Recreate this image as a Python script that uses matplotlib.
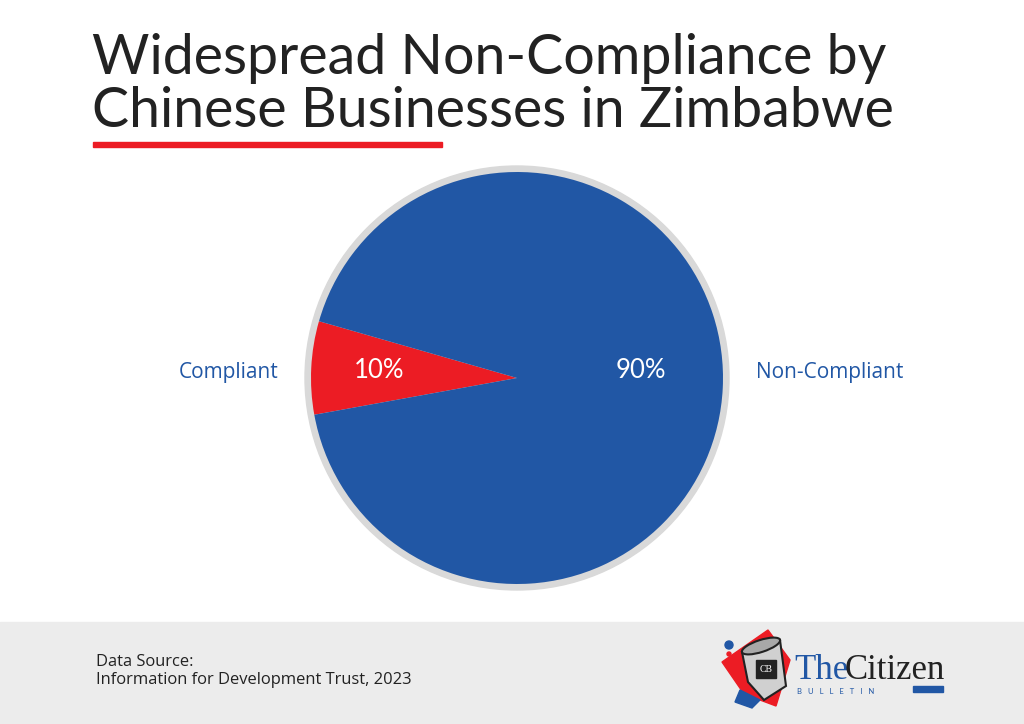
import matplotlib
matplotlib.use("Agg")
import matplotlib.pyplot as plt
from matplotlib.patches import Circle, Rectangle, Polygon, Ellipse

# Data
labels = ["Compliant", "Non-Compliant"]
pct_labels = ["10%", "90%"]
# the source draws the red slice narrower (~26 deg) than its 10% label says
slice_sizes = [7.3, 92.7]
colors = ["#ec1c24", "#2157a5"]

TITLE_LINES = ["Widespread Non-Compliance by", "Chinese Businesses in Zimbabwe"]
SOURCE_LINES = ["Data Source:", "Information for Development Trust, 2023"]

W, H = 1024, 724
fig = plt.figure(figsize=(W / 100, H / 100), dpi=100)
fig.patch.set_facecolor("white")

# Background layer in pixel coordinates
bg = fig.add_axes([0, 0, 1, 1])
bg.set_xlim(0, W)
bg.set_ylim(H, 0)
bg.axis("off")
bg.add_patch(Rectangle((0, 622), W, 102, color="#ececec", zorder=0))
bg.add_patch(Rectangle((93, 142), 349, 5, color="#ec1c24", zorder=1))
for y, line in zip([74, 127], TITLE_LINES):
    bg.text(92, y, line, fontsize=40, family="Lato", color="#222222", va="baseline")
for y, line in zip([666, 684], SOURCE_LINES):
    bg.text(96, y, line, fontsize=11.9, family="Open Sans", color="#222222", va="baseline")

# Logo (simplified)
bg.add_patch(Polygon([[722, 662], [768, 630], [790, 660], [776, 706], [744, 694]],
                     closed=True, color="#ec1c24", zorder=2))
bg.add_patch(Polygon([[740, 690], [760, 700], [752, 708], [735, 702]],
                     closed=True, color="#2157a5", zorder=2))
bg.add_patch(Polygon([[742, 652], [780, 640], [786, 686], [764, 700], [748, 682]],
                     closed=True, facecolor="#d0d0d0", edgecolor="#222222", lw=1.5, zorder=3))
bg.add_patch(Ellipse((761, 646), 40, 12, angle=-18, facecolor="#a8a8a8",
                     edgecolor="#222222", lw=1.5, zorder=4))
bg.add_patch(Rectangle((756, 660), 20, 18, color="#222222", zorder=4))
bg.text(766, 669, "CB", fontsize=7, color="white", ha="center", va="center",
        family="Liberation Serif", zorder=5)
bg.add_patch(Circle((729, 645), 4, color="#2157a5", zorder=3))
bg.add_patch(Circle((729, 654), 2, color="#ec1c24", zorder=3))
bg.text(794, 679, "The", fontsize=25, family="Liberation Serif", color="#2157a5",
        va="baseline")
bg.text(845, 679, "Citizen", fontsize=25, family="Liberation Serif", color="#222222",
        va="baseline")
bg.text(797, 694, "B   U   L   L   E   T   I   N", fontsize=5.5, family="Lato",
        color="#2157a5", va="baseline")
bg.add_patch(Rectangle((913, 686), 30, 6, color="#2157a5", zorder=2))

# Pie
cx, cy, r = 517, 378, 206
side = 520
ax = fig.add_axes([(cx - side / 2) / W, (H - cy - side / 2) / H, side / W, side / H])
ax.add_patch(Circle((0, 0), r + 6, color="#d9d9d9", zorder=0))
wedges, texts = ax.pie(
    slice_sizes, labels=labels, colors=colors, startangle=164, radius=r,
    labeldistance=1.16,
    textprops=dict(fontsize=15, color="#2157a5", family="Open Sans"),
    wedgeprops=dict(linewidth=0),
)
# labels sit on the horizontal centre line, as in the source
for t in texts:
    x, _ = t.get_position()
    t.set_position((x, 0))
    t.set_va("baseline")
pct_dist = [0.67, 0.6]
for t, w, lab, d in zip(texts, wedges, pct_labels, pct_dist):
    x, _ = t.get_position()
    sign = 1 if x > 0 else -1
    ax.text(sign * d * w.r, 0, lab, color="white", fontsize=18.5, family="Lato",
            ha="center", va="baseline")
ax.set_xlim(-side / 2, side / 2)
ax.set_ylim(-side / 2, side / 2)
ax.set_aspect("equal")
ax.axis("off")

fig.savefig("out.png", dpi=100)
